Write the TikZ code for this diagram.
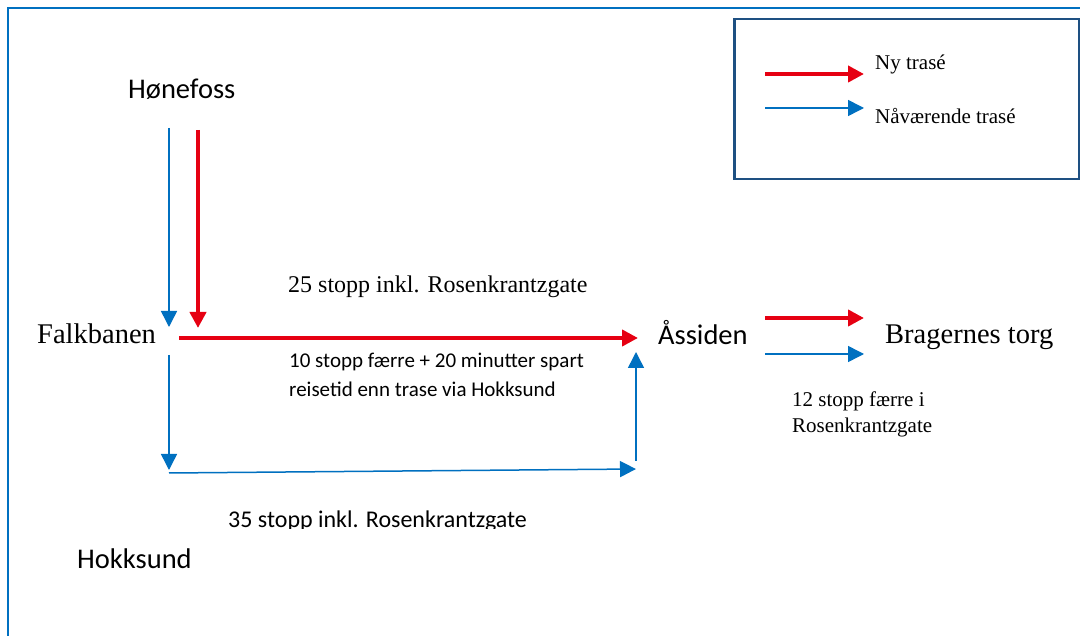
\documentclass[tikz,border=0pt]{standalone}
\usepackage{fontspec}
\setmainfont{Liberation Serif}
\newfontfamily\calib{Carlito}
\usetikzlibrary{arrows.meta}
\definecolor{newred}{RGB}{230,0,18}
\definecolor{oldblue}{RGB}{0,112,192}
\definecolor{frameblue}{RGB}{0,112,192}
\definecolor{legendblue}{RGB}{30,80,130}
\begin{document}
\begin{tikzpicture}[x=1pt,y=-1pt,
  txt/.style={inner sep=0pt,anchor=base west},
  big/.style={txt,font=\fontsize{28.5}{34}\selectfont},
  bigc/.style={txt,font=\calib\fontsize{28.5}{34}\selectfont},
  small/.style={txt,font=\fontsize{21}{26}\selectfont},
  newroute/.style={draw=newred,line width=4pt,-{Triangle[length=16pt,width=16pt]}},
  oldroute/.style={draw=oldblue,line width=1.5pt,-{Triangle[length=16pt,width=16pt]}}]
\clip (0,0) rectangle (1080,636);
\fill[white] (0,0) rectangle (1080,636);
% outer frame
\draw[frameblue,line width=2.5pt] (8,8) rectangle (1110,680);
% legend
\node[draw=legendblue,line width=2.5pt,minimum width=345pt,minimum height=160pt,anchor=north west,inner sep=0pt] (legend) at (733,18) {};
\coordinate (lr1) at (765,74);  \coordinate (lr2) at (864,74);
\coordinate (lb1) at (765,108); \coordinate (lb2) at (864,108);
\draw[newroute] (lr1) -- (lr2);
\draw[oldroute] (lb1) -- (lb2);
\node[small] (lnew) at (875,70) {Ny trasé};
\node[small] (lold) at (875,124) {Nåværende trasé};
% places
\node[bigc] (hone) at (128,99) {Hønefoss};
\node[big] (falk) at (37,344) {Falkbanen};
\node[bigc] (assiden) at (658,345) {Åssiden};
\node[big] (brag) at (885,344) {Bragernes torg};
\node[bigc] (hokk) at (77,568) {Hokksund};
% labels
\node[txt,font=\fontsize{24}{29}\selectfont] (l25) at (288,293) {25 stopp inkl. Rosenkrantzgate};
\node[txt,font=\calib\fontsize{21}{29}\selectfont,align=left,anchor=base west] (l10) at (289,397) {10 stopp færre + 20 minutter spart\\reisetid enn trase via Hokksund};
\node[small,align=left] (l12) at (792,433) {12 stopp færre i\\Rosenkrantzgate};
\begin{scope}
\clip (150,490) rectangle (600,528);
\node[txt,font=\calib\fontsize{24}{29}\selectfont] (l35) at (228,527) {35 stopp inkl. Rosenkrantzgate};
\end{scope}
% route coordinates
\coordinate (hb1) at (169,128); \coordinate (hb2) at (169,327);
\coordinate (hr1) at (198,130); \coordinate (hr2) at (198,328);
\coordinate (fr1) at (179,338); \coordinate (fr2) at (638,338);
\coordinate (fb1) at (169,355); \coordinate (fb2) at (169,470);
\coordinate (kb1) at (169,473); \coordinate (kb2) at (636,469);
\coordinate (ub1) at (636,461); \coordinate (ub2) at (636,352);
\coordinate (br1) at (765,318); \coordinate (br2) at (864,318);
\coordinate (bb1) at (765,354); \coordinate (bb2) at (864,354);
\draw[oldroute] (hb1) -- (hb2);
\draw[newroute] (hr1) -- (hr2);
\draw[newroute] (fr1) -- (fr2);
\draw[oldroute] (fb1) -- (fb2);
\draw[oldroute] (kb1) -- (kb2);
\draw[oldroute] (ub1) -- (ub2);
\draw[newroute] (br1) -- (br2);
\draw[oldroute] (bb1) -- (bb2);
\end{tikzpicture}
\end{document}
